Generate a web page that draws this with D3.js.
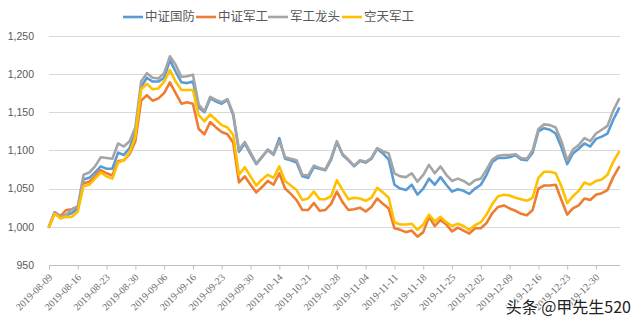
<!DOCTYPE html>
<html><head><meta charset="utf-8">
<script src="https://cdn.jsdelivr.net/npm/d3@7"></script>
<style>
html,body{margin:0;padding:0;background:#fff;}
svg{display:block;font-family:"Liberation Sans Narrow","Liberation Sans",Arial,sans-serif;}
</style></head><body>
<svg id="c" width="640" height="326"></svg>
<script>
const dates = ["2019-08-09","2019-08-12","2019-08-13","2019-08-14","2019-08-15","2019-08-16","2019-08-19","2019-08-20","2019-08-21","2019-08-22",
"2019-08-23","2019-08-26","2019-08-27","2019-08-28","2019-08-29","2019-08-30","2019-09-02","2019-09-03","2019-09-04","2019-09-05",
"2019-09-06","2019-09-09","2019-09-10","2019-09-11","2019-09-12","2019-09-16","2019-09-17","2019-09-18","2019-09-19","2019-09-20",
"2019-09-23","2019-09-24","2019-09-25","2019-09-26","2019-09-27","2019-09-30","2019-10-08","2019-10-09","2019-10-10","2019-10-11",
"2019-10-14","2019-10-15","2019-10-16","2019-10-17","2019-10-18","2019-10-21","2019-10-22","2019-10-23","2019-10-24","2019-10-25",
"2019-10-28","2019-10-29","2019-10-30","2019-10-31","2019-11-01","2019-11-04","2019-11-05","2019-11-06","2019-11-07","2019-11-08",
"2019-11-11","2019-11-12","2019-11-13","2019-11-14","2019-11-15","2019-11-18","2019-11-19","2019-11-20","2019-11-21","2019-11-22",
"2019-11-25","2019-11-26","2019-11-27","2019-11-28","2019-11-29","2019-12-02","2019-12-03","2019-12-04","2019-12-05","2019-12-06",
"2019-12-09","2019-12-10","2019-12-11","2019-12-12","2019-12-13","2019-12-16","2019-12-17","2019-12-18","2019-12-19","2019-12-20",
"2019-12-23","2019-12-24","2019-12-25","2019-12-26","2019-12-27","2019-12-30","2019-12-31","2020-01-02","2020-01-03","2020-01-06"];

const tickLabels = ["2019-08-09","2019-08-16","2019-08-23","2019-08-30","2019-09-06","2019-09-16","2019-09-23","2019-09-30","2019-10-14","2019-10-21",
"2019-10-28","2019-11-04","2019-11-11","2019-11-18","2019-11-25","2019-12-02","2019-12-09","2019-12-16","2019-12-23","2019-12-30"];

const yTicks = [950,1000,1050,1100,1150,1200,1250];

const seriesNames = ["中证国防","中证军工","军工龙头","空天军工"];

const guofang = [1000,1019,1013,1015,1018,1024,1062,1064,1071,1079,
1076,1076,1097,1094,1103,1125,1183,1195,1190,1190,
1195,1218,1203,1189,1188,1190,1156,1150,1168,1164,
1161,1166,1146,1098,1109,1095,1082,1091,1101,1095,
1116,1089,1087,1084,1066,1064,1078,1076,1074,1088,
1111,1094,1087,1079,1086,1084,1089,1102,1096,1088,
1055,1050,1048,1055,1042,1050,1063,1055,1065,1055,
1046,1049,1047,1043,1050,1055,1068,1085,1090,1090,
1091,1094,1088,1087,1097,1125,1129,1127,1122,1104,
1082,1096,1102,1109,1105,1115,1118,1122,1140,1155];

const jungong = [1000,1019,1014,1022,1023,1026,1057,1059,1066,1074,
1070,1067,1086,1087,1095,1112,1165,1172,1165,1168,
1175,1189,1175,1161,1163,1161,1128,1121,1137,1130,
1124,1121,1110,1058,1066,1055,1045,1052,1060,1055,
1070,1050,1043,1035,1022,1022,1031,1021,1022,1030,
1046,1032,1022,1023,1025,1020,1026,1037,1030,1024,
998,996,993,995,987,993,1013,1001,1009,1003,
994,999,995,991,998,998,1005,1018,1026,1028,
1024,1021,1017,1015,1022,1050,1054,1054,1055,1035,
1016,1024,1028,1037,1035,1042,1044,1048,1065,1078];

const longtou = [1000,1019,1013,1016,1023,1027,1068,1071,1079,1091,
1090,1089,1109,1105,1112,1130,1190,1201,1195,1194,
1201,1223,1212,1196,1197,1199,1160,1151,1170,1166,
1163,1167,1148,1101,1111,1097,1083,1092,1100,1094,
1112,1091,1089,1087,1068,1067,1080,1077,1075,1090,
1112,1095,1088,1080,1087,1085,1090,1103,1099,1096,
1070,1066,1065,1070,1059,1068,1081,1070,1079,1068,
1060,1063,1060,1055,1061,1063,1075,1088,1093,1094,
1094,1095,1090,1089,1100,1128,1134,1133,1130,1112,
1087,1101,1107,1116,1112,1122,1127,1132,1152,1167];

const kongtian = [1000,1017,1011,1013,1013,1020,1053,1055,1063,1071,
1066,1063,1084,1087,1097,1118,1180,1187,1180,1181,
1190,1205,1190,1179,1179,1179,1146,1138,1147,1140,
1133,1130,1120,1068,1078,1066,1054,1062,1068,1064,
1079,1060,1054,1048,1035,1037,1046,1036,1036,1040,
1061,1048,1036,1038,1037,1034,1038,1051,1045,1038,
1006,1003,1003,1004,996,1003,1016,1007,1013,1006,
1001,1004,1001,996,1002,1006,1016,1030,1040,1042,
1041,1038,1036,1034,1038,1064,1072,1072,1070,1053,
1031,1040,1047,1058,1055,1060,1062,1068,1085,1098];

const seriesValues = [guofang, jungong, longtou, kongtian];
const colors = ["#5B9BD5","#ED7D31","#A5A5A5","#FFC000"];

const svg = d3.select("#c");
const pLeft = 49, pRight = 619, pTop = 35.7, pBottom = 265;

const x = d3.scalePoint().domain(dates).range([pLeft, pRight]);
const y = d3.scaleLinear().domain([950,1250]).range([pBottom, pTop]);

// gridlines
svg.append("g").selectAll("line").data(yTicks.filter(v=>v!==950)).join("line")
  .attr("x1", pLeft).attr("x2", pRight+1)
  .attr("y1", d=>Math.round(y(d))+0.5).attr("y2", d=>Math.round(y(d))+0.5)
  .attr("stroke", "#d9d9d9").attr("stroke-width", 1);

// y axis labels
const ya = svg.append("g").attr("transform", `translate(${pLeft},0)`)
  .call(d3.axisLeft(y).tickValues(yTicks).tickFormat(d3.format(",")).tickSize(0).tickPadding(15));
ya.select(".domain").remove();
ya.selectAll("text").attr("fill", "#595959").style("font-size", "10.5px")
  .style("font-family", "'Liberation Sans Narrow','Liberation Sans',sans-serif");

// x axis
const xa = svg.append("g").attr("transform", `translate(0,${Math.round(pBottom)+0.5})`)
  .call(d3.axisBottom(x).tickValues(tickLabels).tickSize(4).tickSizeOuter(0));
xa.select(".domain").attr("stroke", "#bfbfbf").attr("d", `M${pLeft},0H${pRight+1}`);
xa.selectAll(".tick line").attr("stroke", "#bfbfbf");
xa.selectAll("text")
  .attr("fill", "#6b6b6b").style("font-size", "10px")
  .style("font-family", "'Liberation Serif','DejaVu Serif',serif")
  .attr("text-anchor", "end")
  .attr("transform", "translate(1,10) rotate(-45)")
  .attr("dy", "0.35em").attr("y", 0).attr("x", 0);

// lines
const line = d3.line().x((d,i)=>x(dates[i])).y(d=>y(d));
svg.append("g").selectAll("path").data(seriesValues).join("path")
  .attr("d", d=>line(d))
  .attr("fill", "none")
  .attr("stroke", (d,i)=>colors[i])
  .attr("stroke-width", 2.6)
  .attr("stroke-linejoin", "round")
  .attr("stroke-linecap", "round");

// legend
const legX = [123, 196, 268, 342];
const lg = svg.append("g").selectAll("g").data(seriesNames).join("g")
  .attr("transform", (d,i)=>`translate(${legX[i]},17)`);
lg.append("line").attr("x1",0).attr("x2",20).attr("y1",0).attr("y2",0)
  .attr("stroke",(d,i)=>colors[i]).attr("stroke-width",2.6);
lg.append("text").attr("x",22).attr("y",0).attr("dy","0.35em")
  .text(d=>d).attr("fill","#595959").style("font-size","12.5px")
  .style("font-family","'Noto Sans CJK SC',sans-serif");

// watermark
svg.append("text").attr("x", 631).attr("y", 313).attr("text-anchor","end")
  .text("头条 @甲先生520")
  .style("font-family","'Noto Sans CJK SC',sans-serif").style("font-size","16px")
  .attr("fill","#222").attr("stroke","#fff").attr("stroke-width",2).attr("paint-order","stroke");
</script>
</body></html>
